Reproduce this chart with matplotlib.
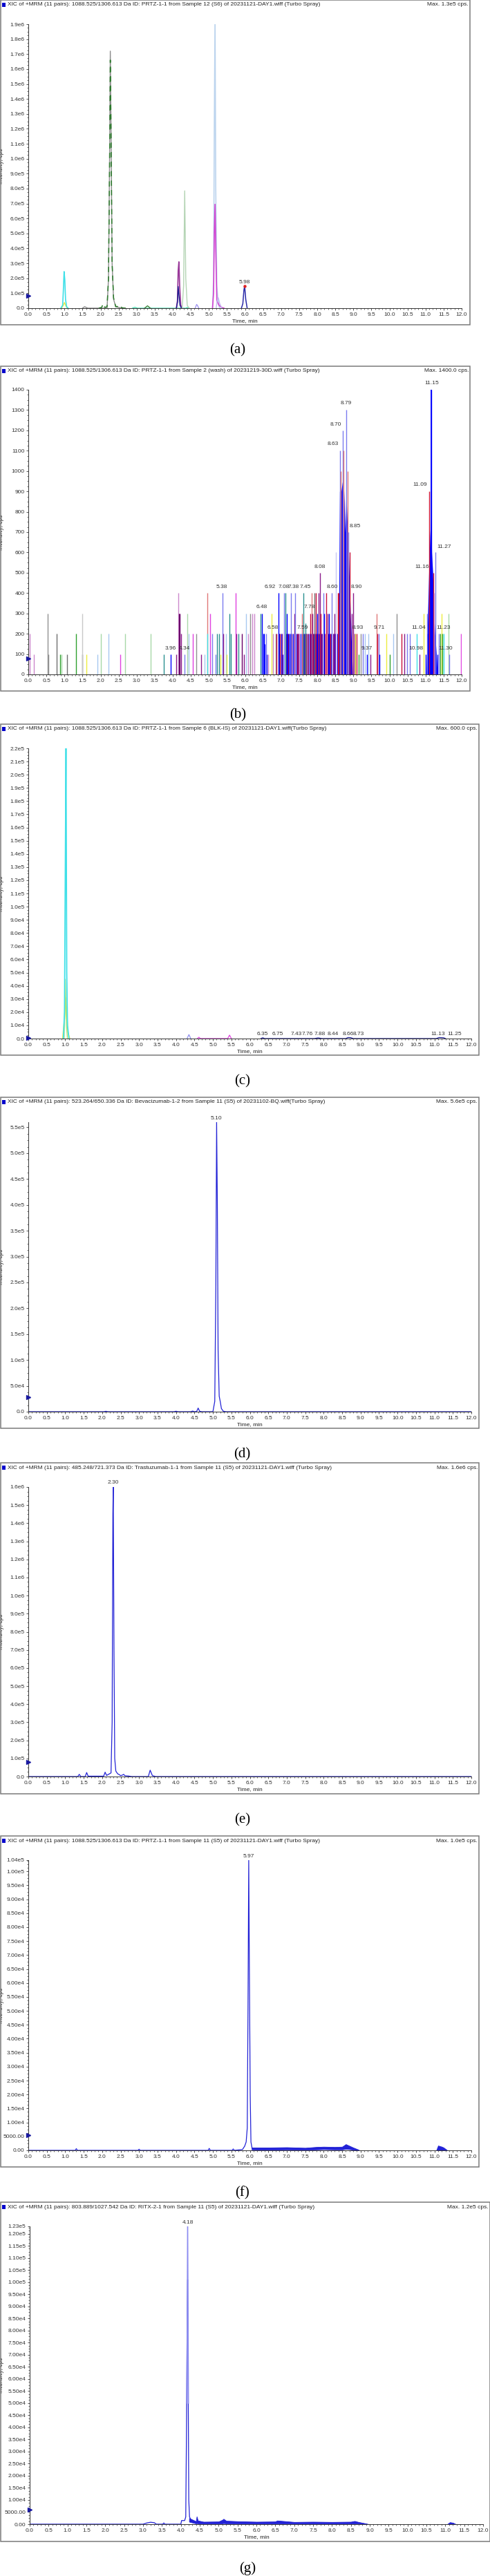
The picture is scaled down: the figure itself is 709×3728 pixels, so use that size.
import matplotlib
matplotlib.use("Agg")
import matplotlib.pyplot as plt
from matplotlib import font_manager
from matplotlib.patches import Rectangle
from matplotlib.ticker import FixedLocator, AutoMinorLocator

W, H = 709, 3728
names = {f.name for f in font_manager.fontManager.ttflist}
NARROW = 'Liberation Sans Narrow' if 'Liberation Sans Narrow' in names else 'Liberation Sans'

# ---------------- data ----------------
x_labels = ["0.0", "0.5", "1.0", "1.5", "2.0", "2.5", "3.0", "3.5", "4.0", "4.5", "5.0", "5.5",
            "6.0", "6.5", "7.0", "7.5", "8.0", "8.5", "9.0", "9.5", "10.0", "10.5", "11.0", "11.5", "12.0"]

titles = [
    "XIC of +MRM (11 pairs): 1088.525/1306.613 Da ID: PRTZ-1-1 from Sample 12 (S6) of 20231121-DAY1.wiff (Turbo Spray)",
    "XIC of +MRM (11 pairs): 1088.525/1306.613 Da ID: PRTZ-1-1 from Sample 2 (wash) of 20231219-30D.wiff (Turbo Spray)",
    "XIC of +MRM (11 pairs): 1088.525/1306.613 Da ID: PRTZ-1-1 from Sample 6 (BLK-IS) of 20231121-DAY1.wiff(Turbo Spray)",
    "XIC of +MRM (11 pairs): 523.264/650.336 Da ID: Bevacizumab-1-2 from Sample 11 (S5) of 20231102-BQ.wiff(Turbo Spray)",
    "XIC of +MRM (11 pairs): 485.248/721.373 Da ID: Trastuzumab-1-1 from Sample 11 (S5) of 20231121-DAY1.wiff (Turbo Spray)",
    "XIC of +MRM (11 pairs): 1088.525/1306.613 Da ID: PRTZ-1-1 from Sample 11 (S5) of 20231121-DAY1.wiff (Turbo Spray)",
    "XIC of +MRM (11 pairs): 803.889/1027.542 Da ID: RITX-2-1 from Sample 11 (S5) of 20231121-DAY1.wiff (Turbo Spray)",
]
max_texts = ["Max. 1.3e5 cps.", "Max. 1400.0 cps.", "Max. 600.0 cps.", "Max. 5.6e5 cps.",
             "Max. 1.6e6 cps.", "Max. 1.0e5 cps.", "Max. 1.2e5 cps."]
panel_letters = ["(a)", "(b)", "(c)", "(d)", "(e)", "(f)", "(g)"]

a_ylab = ["0.0", "1.0e5", "2.0e5", "3.0e5", "4.0e5", "5.0e5", "6.0e5", "7.0e5", "8.0e5", "9.0e5",
          "1.0e6", "1.1e6", "1.2e6", "1.3e6", "1.4e6", "1.5e6", "1.6e6", "1.7e6", "1.8e6", "1.9e6"]
b_ylab = ["0", "100", "200", "300", "400", "500", "600", "700", "800", "900", "1000", "1100",
          "1200", "1300", "1400"]
c_ylab = ["0.0", "1.0e4", "2.0e4", "3.0e4", "4.0e4", "5.0e4", "6.0e4", "7.0e4", "8.0e4", "9.0e4",
          "1.0e5", "1.1e5", "1.2e5", "1.3e5", "1.4e5", "1.5e5", "1.6e5", "1.7e5", "1.8e5", "1.9e5",
          "2.0e5", "2.1e5", "2.2e5"]
d_ylab = ["0.0", "5.0e4", "1.0e5", "1.5e5", "2.0e5", "2.5e5", "3.0e5", "3.5e5", "4.0e5", "4.5e5",
          "5.0e5", "5.5e5"]
e_ylab = ["0.0", "1.0e5", "2.0e5", "3.0e5", "4.0e5", "5.0e5", "6.0e5", "7.0e5", "8.0e5", "9.0e5",
          "1.0e6", "1.1e6", "1.2e6", "1.3e6", "1.4e6", "1.5e6", "1.6e6"]
f_ylab = ["0.00", "5000.00", "1.00e4", "1.50e4", "2.00e4", "2.50e4", "3.00e4", "3.50e4", "4.00e4",
          "4.50e4", "5.00e4", "5.50e4", "6.00e4", "6.50e4", "7.00e4", "7.50e4", "8.00e4", "8.50e4",
          "9.00e4", "9.50e4", "1.00e5", "1.04e5"]
g_ylab = ["0.00", "5000.00", "1.00e4", "1.50e4", "2.00e4", "2.50e4", "3.00e4", "3.50e4", "4.00e4",
          "4.50e4", "5.00e4", "5.50e4", "6.00e4", "6.50e4", "7.00e4", "7.50e4", "8.00e4", "8.50e4",
          "9.00e4", "9.50e4", "1.00e5", "1.05e5", "1.10e5", "1.15e5", "1.20e5", "1.23e5"]
y_tops = [1.9e6, 1400, 2.2e5, 5.6e5, 1.6e6, 1.04e5, 1.23e5]
start_marks = [0.82e5, 78, 500, 2.8e4, 0.8e5, 5500, 6000]

# panel (a) traces: (times, intensities, colour)
a_cyan_t = [0.90, 0.95, 0.97, 0.99, 1.01, 1.03, 1.06, 1.10]
a_cyan_y = [0, 0.2e5, 1.2e5, 2.45e5, 1.9e5, 0.6e5, 0.1e5, 0]
a_yel_t = [0.92, 0.97, 1.00, 1.04, 1.08]
a_yel_y = [0, 0.2e5, 0.38e5, 0.15e5, 0]
a_gray_t = [1.50, 1.56, 1.60, 1.65, 2.18, 2.22, 2.25, 2.27, 2.29, 2.32, 2.36, 2.42, 2.50, 2.60]
a_gray_y = [0, 0.1e5, 0.05e5, 0, 0, 2e5, 10e5, 17.2e5, 12e5, 3e5, 0.6e5, 0.1e5, 0.05e5, 0]
a_grn_t = [1.95, 2.03, 2.07, 2.12, 2.18, 2.22, 2.25, 2.27, 2.29, 2.32, 2.36, 2.42, 2.46, 2.50, 2.55, 2.60, 2.70]
a_grn_y = [0, 0.05e5, 0.28e5, 0.05e5, 0.1e5, 2e5, 9.5e5, 16.6e5, 12e5, 3e5, 0.7e5, 0.1e5, 0.12e5, 0.03e5, 0.12e5, 0.02e5, 0]
a_aqua_t = [2.88, 2.95, 3.02, 4.36, 4.40, 4.46]
a_aqua_y = [0, 0.06e5, 0, 0, 0.05e5, 0]
a_grn2_t = [3.22, 3.30, 3.38]
a_grn2_y = [0, 0.16e5, 0]
a_purp_t = [4.10, 4.13, 4.15, 4.17, 4.19, 4.22, 4.26]
a_purp_y = [0, 0.5e5, 2.5e5, 3.1e5, 1.5e5, 0.2e5, 0]
a_navy_t = [4.10, 4.13, 4.15, 4.17, 4.20, 4.24]
a_navy_y = [0, 0.4e5, 1.45e5, 0.9e5, 0.2e5, 0]
a_lgrn_t = [4.26, 4.30, 4.33, 4.36, 4.40, 4.45]
a_lgrn_y = [0, 1.5e5, 7.85e5, 2.0e5, 0.2e5, 0]
a_lav_t = [4.62, 4.66, 4.68, 4.72]
a_lav_y = [0, 0.25e5, 0.2e5, 0]
a_lblue_t = [5.10, 5.13, 5.15, 5.17, 5.19, 5.22, 5.26, 5.30]
a_lblue_y = [0, 2e5, 12e5, 19.5e5, 8e5, 1.5e5, 0.3e5, 0]
a_mag_t = [5.10, 5.13, 5.15, 5.17, 5.19, 5.22, 5.28, 5.35, 5.42]
a_mag_y = [0, 1e5, 5e5, 6.95e5, 4e5, 0.5e5, 0.2e5, 0.05e5, 0]
a_lilac_t = [5.20, 5.23, 5.26, 5.30, 5.36]
a_lilac_y = [0, 0.5e5, 0.7e5, 0.3e5, 0]
a_navy2_t = [5.90, 5.94, 5.97, 5.99, 6.02, 6.06]
a_navy2_y = [0, 0.3e5, 1.2e5, 1.5e5, 0.6e5, 0]

# panel (b): stick spikes (time, height, colour key)
b_spike_t = [0.03, 0.15, 0.54, 0.56, 0.79, 0.88, 0.92, 1.07, 1.33, 1.49, 1.50, 1.61, 1.91, 2.00, 2.22,
             2.55, 2.67, 3.39, 3.75, 3.94, 4.09, 4.15, 4.17, 4.19, 4.23, 4.33, 4.40, 4.44, 4.56, 4.65,
             4.79, 4.88, 4.95, 4.96, 5.04, 5.10, 5.18, 5.23, 5.28, 5.33, 5.38, 5.39, 5.47, 5.50, 5.56,
             5.61, 5.74, 5.76, 5.82, 5.92, 5.97, 6.03, 6.08, 6.15, 6.20, 6.26, 6.44, 6.46, 6.53, 6.58,
             6.64, 6.74, 6.77, 6.85, 6.88, 6.92, 6.96, 7.08, 7.12, 7.15, 7.22, 7.28, 7.36, 7.39, 7.46,
             7.51, 7.57, 7.59, 7.62, 7.67, 7.73, 7.81, 7.85, 7.87, 7.92, 7.96, 8.00, 8.04, 8.07, 8.10,
             8.17, 8.19, 8.25, 8.28, 8.32, 8.41, 8.47, 8.52, 8.57, 8.60, 8.63, 8.66, 8.70, 8.73, 8.80,
             8.84, 8.86, 8.89, 8.95, 9.00, 9.03, 9.05, 9.09, 9.14, 9.21, 9.27, 9.32, 9.37, 9.41, 9.48,
             9.64, 9.66, 9.71, 9.72, 9.91, 10.01, 10.10, 10.20, 10.34, 10.41, 10.49, 10.56, 10.75, 10.83,
             10.94, 11.00, 11.04, 11.07, 11.11, 11.16, 11.21, 11.24, 11.28, 11.33, 11.37, 11.40, 11.44,
             11.47, 11.50, 11.63, 11.65, 11.98]
b_spike_h = [200, 100, 300, 100, 200, 100, 100, 100, 200, 100, 300, 100, 100, 200, 200,
             100, 200, 200, 100, 100, 100, 400, 300, 300, 200, 100, 300, 200, 200, 200,
             100, 100, 400, 200, 300, 200, 100, 200, 200, 100, 400, 200, 200, 100, 300,
             200, 400, 200, 200, 200, 100, 300, 200, 300, 300, 300, 300, 300, 200, 200,
             100, 300, 200, 200, 200, 400, 100, 400, 400, 300, 200, 400, 300, 400, 200,
             200, 300, 200, 400, 250, 200, 300, 400, 300, 400, 400, 300, 400, 500, 300,
             400, 300, 400, 300, 300, 400, 300, 600, 400, 400, 1100, 1000, 1200, 1100, 1300,
             1000, 700, 600, 300, 400, 200, 200, 200, 100, 200, 200, 200, 100, 200, 100,
             300, 200, 200, 100, 200, 100, 200, 300, 200, 200, 200, 200, 200, 100,
             300, 100, 300, 200, 900, 1400, 500, 400, 600, 100, 200, 200, 300,
             200, 200, 300, 100, 200]
b_spike_c = ["pink", "pink", "gray", "gray", "dgray", "green", "lgreen", "dgray", "green", "dgray", "lgray",
             "yellow", "lblue", "lgreen", "lblue",
             "mag", "lgreen", "lgreen", "teal", "blue", "purple", "pink", "dpurple", "dpurple", "purple",
             "lav", "lgreen", "lblue", "mag", "gray",
             "purple", "lblue", "salmon", "cyan", "mag", "lav", "lav", "teal", "teal", "yellow", "lav",
             "purple", "lblue", "yellow", "teal",
             "teal", "mag", "purple", "teal", "dpurple", "purple", "lblue", "pink", "gray", "pink", "pink",
             "teal", "blue", "blue", "lav",
             "pink", "yellow", "pink", "gray", "crim", "blue", "crim", "lav", "teal", "blue", "blue", "lav",
             "purple", "lav", "purple",
             "pink", "salmon", "purple", "teal", "teal", "purple", "crim", "salmon", "purple", "dgray", "crim",
             "blue", "purple", "purple", "crim",
             "lav", "blue", "crim", "purple", "blue", "lav", "purple", "llav", "crim", "crim", "lav", "salmon",
             "lav", "salmon", "lav",
             "salmon", "lav", "crim", "purple", "purple", "purple", "yellow", "crim", "green", "gray", "lav",
             "lblue", "blue", "lblue", "purple",
             "salmon", "crim", "lav", "blue", "yellow", "green", "lblue", "gray", "crim", "purple", "lav",
             "lav", "cyan", "purple",
             "yellow", "blue", "lav", "blue", "crim", "blue", "crim", "pink", "lav", "blue", "lav", "green",
             "yellow",
             "green", "cyan", "lgreen", "lav", "mag"]
# low-level blue / purple / crimson hash in the 6.5 - 8.6 min region
b_low_t = [6.50, 6.55, 6.60, 6.95, 7.00, 7.05, 7.18, 7.25, 7.33, 7.42, 7.55, 7.64, 7.70, 7.78, 7.83,
           7.90, 7.98, 8.05, 8.12, 8.20, 8.30, 8.38, 8.45, 8.50, 8.55,
           7.02, 7.14, 7.30, 7.48, 7.66, 7.75, 7.94, 8.14, 8.34, 8.44,
           6.97, 7.20, 7.44, 7.69, 7.88, 8.02, 8.22, 8.36, 8.48]
b_low_h = [200, 150, 100, 200, 200, 100, 200, 200, 200, 200, 200, 200, 200, 200, 200,
           200, 200, 200, 200, 200, 200, 200, 200, 200, 200,
           200, 200, 200, 200, 200, 200, 200, 200, 200, 200,
           200, 200, 200, 200, 200, 200, 200, 200, 200]
b_low_c = ["blue"] * 25 + ["purple"] * 10 + ["crim"] * 9
# solid blue envelopes of the two big clusters
b_fill1_t = [8.58, 8.60, 8.62, 8.66, 8.70, 8.71, 8.75, 8.77, 8.80, 8.82, 8.86, 8.89, 8.92, 8.95, 8.98]
b_fill1_y = [0, 400, 900, 900, 950, 1020, 850, 700, 900, 800, 650, 480, 300, 150, 0]
b_fill2_t = [11.02, 11.06, 11.09, 11.12, 11.15, 11.17, 11.20, 11.23, 11.26, 11.30, 11.33]
b_fill2_y = [0, 300, 500, 680, 780, 600, 500, 300, 200, 100, 0]
b_labels = ["3.96", "4.34", "5.38", "6.48", "6.58", "6.92", "7.08", "7.38", "7.45", "7.78", "7.59",
            "8.08", "8.60", "8.63", "8.70", "8.79", "8.85", "8.90", "8.93", "9.37", "9.71", "10.98",
            "11.04", "11.09", "11.15", "11.16", "11.27", "11.23", "11.30"]
b_label_x = [3.93, 4.33, 5.36, 6.46, 6.77, 6.70, 7.08, 7.35, 7.67, 7.78, 7.60, 8.07, 8.41, 8.44, 8.52,
             8.79, 9.05, 9.09, 9.13, 9.38, 9.71, 10.74, 10.80, 10.85, 11.17, 10.91, 11.52, 11.49, 11.55]
b_label_y = [115, 115, 417, 318, 218, 417, 417, 417, 417, 318, 218, 517, 417, 1121, 1218, 1323, 718,
             417, 218, 116, 218, 116, 218, 920, 1420, 517, 616, 218, 116]

# panel (c)
c_cyan_t = [0.95, 0.98, 1.00, 1.02, 1.04, 1.06, 1.10]
c_cyan_y = [0, 2e4, 1.2e5, 2.2e5, 5e4, 1e4, 0]
c_yel_t = [0.93, 0.98, 1.01, 1.04, 1.07, 1.12]
c_yel_y = [0, 1.5e4, 3.1e4, 2e4, 5e3, 0]
c_lgrn_t = [0.97, 1.00, 1.03, 1.06]
c_lgrn_y = [0, 4.5e4, 1e4, 0]
c_small_t = [4.30, 4.35, 4.40, 4.58, 4.62, 4.66, 5.40, 5.45, 5.50]
c_small_y = [0, 3000, 0, 0, 1000, 0, 0, 2600, 0]
c_navy_t = [6.30, 6.35, 6.40, 7.75, 7.85, 7.95, 8.60, 8.66, 8.73, 8.80, 11.05, 11.13, 11.25, 11.30]
c_navy_y = [0, 600, 0, 0, 500, 0, 0, 800, 700, 0, 0, 800, 600, 0]
c_labels = ["6.35", "6.75", "7.43", "7.76", "7.88", "8.44", "8.66", "8.73", "11.13", "11.25"]
c_label_x = [6.35, 6.76, 7.26, 7.56, 7.89, 8.26, 8.66, 8.94, 11.10, 11.55]

# panel (d)
d_t = [0, 2.05, 2.10, 2.15, 3.95, 4.00, 4.05, 4.40, 4.45, 4.50, 4.56, 4.60, 4.64, 4.70, 5.00, 5.05,
       5.08, 5.10, 5.12, 5.14, 5.17, 5.20, 5.23, 5.28, 5.35, 6.00, 12.0]
d_y = [0, 0, 800, 0, 0, 900, 0, 0, 1200, 0, 500, 7000, 800, 0, 0, 2e4,
       2.5e5, 5.6e5, 4e5, 1.2e5, 3e4, 1.9e4, 6e3, 1e3, 0, 0, 0]

# panel (e)
e_t = [0, 1.34, 1.38, 1.42, 1.54, 1.58, 1.62, 2.04, 2.08, 2.12, 2.24, 2.27, 2.29, 2.30, 2.32, 2.34,
       2.37, 2.42, 2.45, 2.50, 2.55, 2.58, 2.62, 2.70, 2.80, 3.25, 3.30, 3.36, 3.45, 12.0]
e_y = [0, 0, 1.2e4, 0, 0, 2.2e4, 2e3, 2e3, 2.4e4, 6e3, 2e4, 3e5, 1.45e6, 1.6e6, 7e5, 1e5,
       3e4, 1.5e4, 1.2e4, 5e3, 8e3, 1.2e4, 4e3, 3e3, 0, 0, 3.5e4, 5e3, 0, 0]

# panel (f)
f_t = [0, 1.27, 1.30, 1.33, 2.97, 3.00, 3.03, 4.87, 4.90, 4.93, 5.52, 5.55, 5.58, 5.80, 5.86, 5.90,
       5.93, 5.95, 5.97, 5.99, 6.01, 6.03, 6.06]
f_y = [0, 0, 600, 0, 0, 400, 0, 0, 700, 0, 0, 500, 0, 300, 1500, 3000,
       8000, 5e4, 1.04e5, 6e4, 2e4, 3000, 800]
f_band_t = [6.05, 6.50, 7.00, 7.50, 7.80, 8.00, 8.30, 8.50, 8.60, 8.70, 8.80, 8.95]
f_band_hi = [1000, 1000, 1100, 900, 1200, 1300, 1200, 1300, 2200, 1600, 1000, 200]
f_band_lo = [300, 200, 300, 200, 300, 400, 300, 300, 500, 400, 200, 0]
f_band2_t = [11.05, 11.10, 11.15, 11.20, 11.25, 11.35]
f_band2_hi = [0, 1700, 1500, 1300, 1000, 0]

# panel (g)
g_t = [0, 3.00, 3.10, 3.20, 3.30, 3.35, 3.52, 3.55, 3.58, 4.00, 4.02, 4.10, 4.13, 4.15, 4.17, 4.18,
       4.19, 4.21, 4.23, 4.26, 4.30]
g_y = [0, 0, 500, 800, 600, 0, 0, 500, 0, 0, 1500, 1500, 3000, 4e4, 9e4, 1.01e5,
       7e4, 1e4, 3000, 2000, 1500]
g_top_t = [4.16, 4.18, 4.20]
g_top_y = [5e4, 1.23e5, 5e4]
g_band_t = [4.22, 4.40, 4.42, 4.45, 4.60, 5.00, 5.10, 5.13, 5.20, 5.50, 6.00, 6.50, 6.55, 7.00, 7.50,
            8.00, 8.50, 8.60, 8.70, 8.95]
g_band_hi = [2500, 1200, 3200, 1500, 1000, 1100, 1800, 2200, 1400, 1200, 1000, 1100, 1500, 900, 1000,
             900, 1000, 1300, 900, 100]
g_band_lo = [1000, 300, 400, 300, 200, 200, 300, 400, 300, 300, 200, 200, 300, 200, 200,
             200, 200, 300, 200, 0]
g_band2_t = [11.05, 11.12, 11.20, 11.28]
g_band2_hi = [0, 800, 600, 0]

colors = {"blue": "#0000ff", "lav": "#7b7bef", "llav": "#c8c8f4", "purple": "#8a1a8a", "dpurple": "#6a006a",
          "mag": "#e040e0", "pink": "#cc88cc", "salmon": "#e07878", "crim": "#c8103c", "teal": "#2a9090",
          "cyan": "#40e0e8", "lblue": "#a8c8f0", "yellow": "#ecec40", "green": "#30a030",
          "lgreen": "#a8d8a8", "gray": "#909090", "dgray": "#707070", "lgray": "#c8c8c8", "navy": "#1a1a90"}
TRACE = "#2222d6"

# ---------------- layout (pixels) ----------------
boxes = [(0, 0, 680, 470), (0, 530, 680, 1000), (0, 1048, 693, 1527), (0, 1588, 693, 2067),
         (0, 2117, 693, 2596), (0, 2657, 693, 3136), (0, 3187, 709, 3678)]
axboxes = [(41, 35, 668, 446), (41, 564, 668, 976), (41, 1083, 682, 1503), (41, 1624, 682, 2043),
           (41, 2152, 682, 2571), (41, 2692, 682, 3112), (43, 3222, 699, 3653)]
letter_y = [507, 1035, 1565, 2105, 2634, 3174, 3717]
ylabs = [a_ylab, b_ylab, c_ylab, d_ylab, e_ylab, f_ylab, g_ylab]

fig = plt.figure(figsize=(W / 100, H / 100), dpi=100)
fig.patch.set_facecolor("white")


def fx(x):
    return x / W


def fy(y):
    return 1 - y / H


axes = []
for i in range(7):
    x0, y0, x1, y1 = boxes[i]
    fig.patches.append(Rectangle((fx(x0 + 0.5), fy(y1)), fx(x1 - x0 - 1), (y1 - y0) / H,
                                 transform=fig.transFigure, fill=False, ec="#7a7a7a", lw=1.1))
    fig.patches.append(Rectangle((fx(x0 + 3), fy(y0 + 10)), fx(5), 6 / H, transform=fig.transFigure,
                                 fc="#0000cc", ec="none"))
    fig.text(fx(x0 + 11), fy(y0 + 7), titles[i], fontsize=6.0, family=NARROW, va="center", ha="left",
             color="#222222")
    fig.text(fx(x1 - 2), fy(y0 + 7), max_texts[i], fontsize=6.0, family=NARROW, va="center", ha="right",
             color="#222222")
    fig.text(fx((x0 + x1) / 2 + 4), fy(letter_y[i]), panel_letters[i], fontsize=15,
             family="Liberation Serif", ha="center", va="center")

    L, T, R, B = axboxes[i]
    ax = fig.add_axes([fx(L), fy(B), (R - L) / W, (B - T) / H])
    ax.set_xlim(0, 12.0)
    ax.set_ylim(0, y_tops[i])
    for s in ["top", "right"]:
        ax.spines[s].set_visible(False)
    for s in ["left", "bottom"]:
        ax.spines[s].set_linewidth(0.7)
        ax.spines[s].set_color("#333333")
    ax.xaxis.set_major_locator(FixedLocator([float(v) for v in x_labels]))
    ax.set_xticklabels(x_labels)
    ax.xaxis.set_minor_locator(AutoMinorLocator(5))
    yv = [float(v) for v in ylabs[i]]
    ax.yaxis.set_major_locator(FixedLocator(yv))
    ax.set_yticklabels(ylabs[i])
    ax.yaxis.set_minor_locator(AutoMinorLocator(4))
    ax.tick_params(which="major", length=2.5, width=0.6, pad=1.5, labelsize=6.0, colors="#333333")
    ax.tick_params(which="minor", length=1.4, width=0.5, colors="#333333")
    for lab in ax.get_xticklabels() + ax.get_yticklabels():
        lab.set_family(NARROW)
    ax.set_xlabel("Time, min", fontsize=6.0, family=NARROW, labelpad=1.5, color="#222222")
    ax.set_ylabel("Intensity, cps", fontsize=5.5, family="DejaVu Sans", color="#333333")
    ax.yaxis.set_label_coords(fx(6 - L) * W / (R - L), 0.5)
    ax.plot([0], [start_marks[i]], marker=">", ms=4, color="#1a1aa0", clip_on=False, zorder=5)
    axes.append(ax)

# (a)
ax = axes[0]
ax.plot(a_yel_t, a_yel_y, color=colors["yellow"], lw=1.0)
ax.plot(a_cyan_t, a_cyan_y, color=colors["cyan"], lw=1.2)
ax.plot(a_gray_t, a_gray_y, color="#8c8c8c", lw=1.0)
ax.plot(a_grn_t, a_grn_y, color="#2c7a2c", lw=1.1, ls=(0, (5, 4)))
ax.plot(a_aqua_t, a_aqua_y, color="#40e0b0", lw=0.9)
ax.plot(a_grn2_t, a_grn2_y, color="#2c7a2c", lw=0.9)
ax.plot(a_purp_t, a_purp_y, color="#9a3a9a", lw=1.3)
ax.plot(a_navy_t, a_navy_y, color=colors["navy"], lw=1.0)
ax.plot(a_lgrn_t, a_lgrn_y, color="#b4d4b4", lw=1.0)
ax.plot(a_lav_t, a_lav_y, color="#9a8ef0", lw=0.9)
ax.plot(a_lblue_t, a_lblue_y, color="#bcd4ee", lw=1.2)
ax.plot(a_mag_t, a_mag_y, color="#d244d2", lw=1.2)
ax.plot(a_lilac_t, a_lilac_y, color="#c4b8f0", lw=1.0)
ax.plot(a_navy2_t, a_navy2_y, color="#2a2aa8", lw=1.1)
ax.plot([5.99], [1.5e5], "o", ms=2.2, color="#e02020")
ax.text(5.98, 1.55e5, "5.98", fontsize=6, family=NARROW, ha="center", va="bottom", color="#333333")

# (b)
ax = axes[1]
ax.vlines(b_low_t, 0, b_low_h, colors=[colors[c] for c in b_low_c], lw=1.0)
ax.vlines(b_spike_t, 0, b_spike_h, colors=[colors[c] for c in b_spike_c], lw=1.0)
ax.fill_between(b_fill1_t, 0, b_fill1_y, color=colors["blue"], lw=0)
ax.fill_between(b_fill2_t, 0, b_fill2_y, color=colors["blue"], lw=0)
ax.vlines([11.15], 0, [1400], colors=colors["blue"], lw=1.3)
for txt, tx, ty in zip(b_labels, b_label_x, b_label_y):
    ax.text(tx, ty, txt, fontsize=6, family=NARROW, ha="center", va="bottom", color="#333333",
            clip_on=False)

# (c)
ax = axes[2]
ax.plot(c_yel_t, c_yel_y, color=colors["yellow"], lw=1.2)
ax.plot(c_lgrn_t, c_lgrn_y, color="#b8e870", lw=1.0)
ax.plot(c_cyan_t, c_cyan_y, color=colors["cyan"], lw=1.3)
ax.plot(c_small_t[:3], c_small_y[:3], color="#9090f0", lw=0.9)
ax.plot(c_small_t[3:], c_small_y[3:], color="#e040e0", lw=0.9)
ax.plot(c_navy_t, c_navy_y, color=colors["navy"], lw=0.9)
for txt, tx in zip(c_labels, c_label_x):
    ax.text(tx, 1600, txt, fontsize=6, family=NARROW, ha="center", va="bottom", color="#333333")

# (d)
ax = axes[3]
ax.plot(d_t, d_y, color=TRACE, lw=0.9)
ax.text(5.10, 5.63e5, "5.10", fontsize=6, family=NARROW, ha="center", va="bottom", color="#333333",
        clip_on=False)

# (e)
ax = axes[4]
ax.plot(e_t, e_y, color=TRACE, lw=0.9)
ax.text(2.30, 1.61e6, "2.30", fontsize=6, family=NARROW, ha="center", va="bottom", color="#333333",
        clip_on=False)

# (f)
ax = axes[5]
ax.fill_between(f_band_t, f_band_lo, f_band_hi, color=TRACE, lw=0.6)
ax.fill_between(f_band2_t, 0, f_band2_hi, color=TRACE, lw=0.6)
ax.plot(f_t, f_y, color=TRACE, lw=0.9)
ax.text(5.97, 1.045e5, "5.97", fontsize=6, family=NARROW, ha="center", va="bottom", color="#333333",
        clip_on=False)

# (g)
ax = axes[6]
ax.fill_between(g_band_t, g_band_lo, g_band_hi, color=TRACE, lw=0.6)
ax.fill_between(g_band2_t, 0, g_band2_hi, color=TRACE, lw=0.6)
ax.plot(g_t, g_y, color=TRACE, lw=0.9)
ax.plot(g_top_t, g_top_y, color="#8c8cf0", lw=1.2)
ax.text(4.18, 1.235e5, "4.18", fontsize=6, family=NARROW, ha="center", va="bottom", color="#333333",
        clip_on=False)

fig.savefig("out.png", dpi=100, facecolor="white")
